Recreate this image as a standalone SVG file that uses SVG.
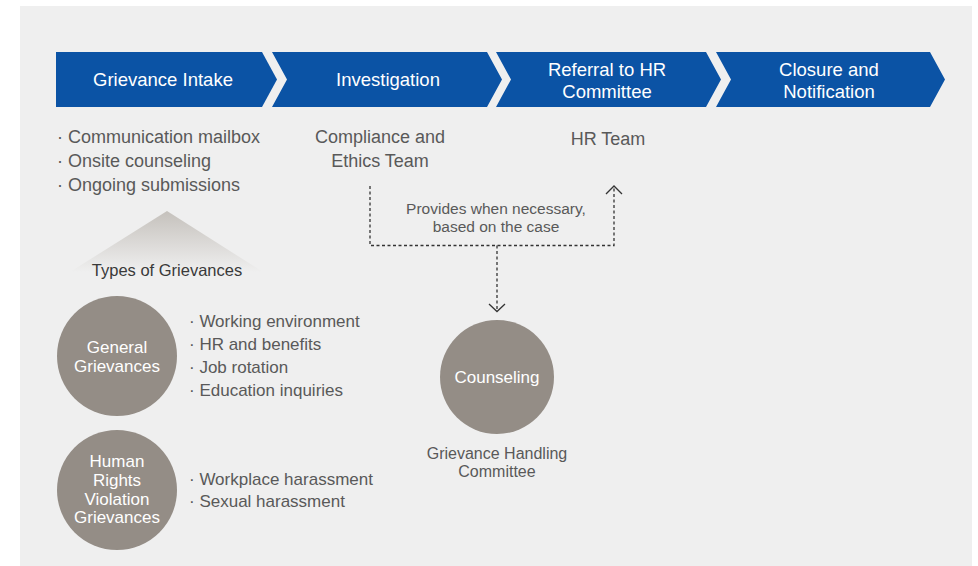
<svg xmlns="http://www.w3.org/2000/svg" width="978" height="566" viewBox="0 0 978 566">
<defs>
<style>
text{font-family:"Liberation Sans","Noto Sans",Arial,sans-serif}
.chev{fill:#0b53a5}
.ct{fill:#ffffff;font-size:18.5px;text-anchor:middle}
.bt{fill:#595959;font-size:18px}
.bc{fill:#595959;font-size:18px;text-anchor:middle}
.st{fill:#595959;font-size:17px}
.circ{fill:#948d86}
.wt{fill:#ffffff;font-size:17px;text-anchor:middle}
.dash{fill:none;stroke:#333333;stroke-width:1.3;stroke-dasharray:3 2.5}
.ah{fill:none;stroke:#333333;stroke-width:1.3}
</style>
<linearGradient id="tri" x1="0" y1="0" x2="0" y2="1">
<stop offset="0" stop-color="#c5c1bc"/>
<stop offset="1" stop-color="#efefef"/>
</linearGradient>
</defs>
<rect x="0" y="0" width="978" height="566" fill="#ffffff"/>
<rect x="20" y="6" width="952" height="560" fill="#efefef"/>

<g id="step-intake">
<polygon class="chev" points="56,52 262,52 277,79.5 262,107 56,107"/>
<text class="ct" x="163" y="86">Grievance Intake</text>
</g>
<g id="step-investigation">
<polygon class="chev" points="272,52 487,52 502,79.5 487,107 272,107 287,79.5"/>
<text class="ct" x="388" y="86">Investigation</text>
</g>
<g id="step-referral">
<polygon class="chev" points="496,52 706,52 721,79.5 706,107 496,107 511,79.5"/>
<text class="ct" x="607" y="76">Referral to HR</text>
<text class="ct" x="607" y="98">Committee</text>
</g>
<g id="step-closure">
<polygon class="chev" points="716,52 930,52 945,79.5 930,107 716,107 731,79.5"/>
<text class="ct" x="829" y="76">Closure and</text>
<text class="ct" x="829" y="98">Notification</text>
</g>

<g id="intake-channels">
<text class="bt" x="57" y="143">· Communication mailbox</text>
<text class="bt" x="57" y="167">· Onsite counseling</text>
<text class="bt" x="57" y="191">· Ongoing submissions</text>
</g>
<g id="compliance-team">
<text class="bc" x="380" y="143">Compliance and</text>
<text class="bc" x="380" y="167">Ethics Team</text>
</g>
<g id="hr-team">
<text class="bc" x="608" y="145">HR Team</text>
</g>

<g id="types-header">
<polygon points="167,211 263,272 70,272" fill="url(#tri)"/>
<text x="167" y="276" fill="#3a3a3a" font-size="16.5" text-anchor="middle">Types of Grievances</text>
</g>

<g id="general-grievances">
<circle class="circ" cx="117" cy="356" r="60"/>
<text class="wt" x="117" y="353">General</text>
<text class="wt" x="117" y="372">Grievances</text>
<text class="st" x="189" y="327">· Working environment</text>
<text class="st" x="189" y="350">· HR and benefits</text>
<text class="st" x="189" y="373">· Job rotation</text>
<text class="st" x="189" y="396">· Education inquiries</text>
</g>

<g id="human-rights-grievances">
<circle class="circ" cx="117" cy="490" r="60"/>
<text class="wt" x="117" y="467">Human</text>
<text class="wt" x="117" y="486">Rights</text>
<text class="wt" x="117" y="505">Violation</text>
<text class="wt" x="117" y="523">Grievances</text>
<text class="st" x="189" y="485">· Workplace harassment</text>
<text class="st" x="189" y="507">· Sexual harassment</text>
</g>

<g id="counseling">
<circle class="circ" cx="497" cy="377" r="57"/>
<text class="wt" x="497" y="383">Counseling</text>
<text x="497" y="459" fill="#595959" font-size="16" text-anchor="middle">Grievance Handling</text>
<text x="497" y="477" fill="#595959" font-size="16" text-anchor="middle">Committee</text>
</g>

<g id="connectors">
<polyline class="dash" points="370,186 370,245.5 614,245.5 614,188"/>
<polyline class="ah" points="606,194 614,186 622,194"/>
<line class="dash" x1="497" y1="245.5" x2="497" y2="310"/>
<polyline class="ah" points="489,304 497,311.5 505,304"/>
<text x="496" y="214" fill="#595959" font-size="15.5" text-anchor="middle">Provides when necessary,</text>
<text x="496" y="232" fill="#595959" font-size="15.5" text-anchor="middle">based on the case</text>
</g>
</svg>
